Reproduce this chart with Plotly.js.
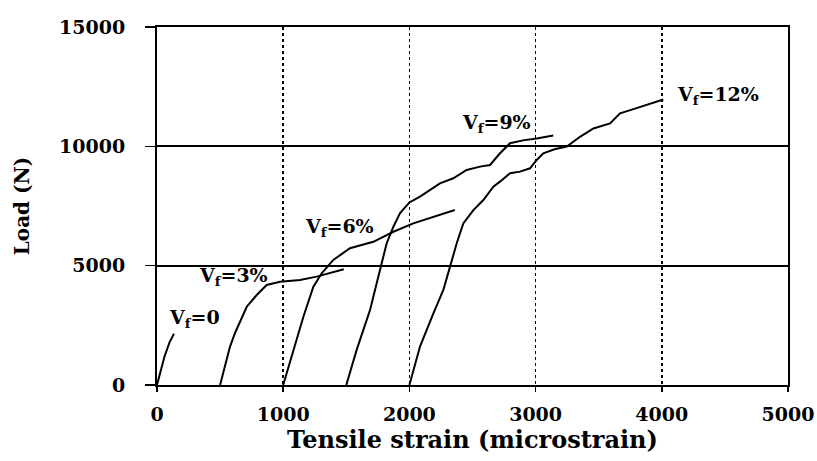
<!DOCTYPE html>
<html>
<head>
<meta charset="utf-8">
<script src="https://cdn.plot.ly/plotly-3.0.1.min.js"></script>
<style>html,body{margin:0;padding:0;background:#fff;}#chart{width:817px;height:461px;}</style>
</head>
<body>
<div id="chart"></div>
<script>
// Tensile strain (microstrain) and Load (N) for each fibre volume fraction
const vf0_x = [0, 10, 25, 60, 100, 135];
const vf0_y = [0, 200, 550, 1200, 1800, 2150];

const vf3_x = [500, 540, 578, 620, 658, 711, 790, 869, 975, 1133, 1265, 1380, 1480];
const vf3_y = [0, 800, 1600, 2200, 2650, 3280, 3770, 4190, 4330, 4400, 4540, 4700, 4850];

const vf6_x = [1000, 1040, 1080, 1160, 1239, 1305, 1397, 1529, 1714, 1873, 2031, 2200, 2360];
const vf6_y = [0, 700, 1470, 2860, 4120, 4680, 5240, 5730, 6000, 6420, 6770, 7050, 7330];

const vf9_x = [1500, 1540, 1582, 1688, 1767, 1820, 1873, 1926, 2000, 2084, 2242, 2348, 2454, 2560, 2639, 2718, 2797, 2900, 3009, 3140];
const vf9_y = [0, 700, 1470, 3140, 4820, 5940, 6630, 7200, 7650, 7890, 8450, 8660, 9010, 9150, 9220, 9710, 10130, 10250, 10330, 10450];

const vf12_x = [2000, 2040, 2084, 2190, 2269, 2322, 2375, 2427, 2507, 2586, 2665, 2718, 2797, 2876, 2956, 3009, 3061, 3150, 3247, 3352, 3458, 3590, 3669, 3775, 3880, 4012];
const vf12_y = [0, 800, 1610, 3000, 3980, 4960, 5940, 6770, 7330, 7750, 8310, 8520, 8870, 8940, 9080, 9430, 9710, 9880, 9990, 10400, 10750, 10960, 11380, 11560, 11730, 11960];

const labels = ["V<sub>f</sub>=0", "V<sub>f</sub>=3%", "V<sub>f</sub>=6%", "V<sub>f</sub>=9%", "V<sub>f</sub>=12%"];
const labelX = [79, 317, 1157, 2401, 4105];
const labelY = [2800, 4530, 6580, 10940, 12110];

const xTicks = [0, 1000, 2000, 3000, 4000, 5000];
const yTicks = [0, 5000, 10000, 15000];

const series = [[vf0_x, vf0_y], [vf3_x, vf3_y], [vf6_x, vf6_y], [vf9_x, vf9_y], [vf12_x, vf12_y]];
const traces = series.map(s => ({
  x: s[0], y: s[1], type: 'scatter', mode: 'lines',
  line: {color: '#000', width: 2}, showlegend: false, hoverinfo: 'skip'
}));

const fontFam = '"DejaVu Serif", "Liberation Serif", serif';
const annotations = labels.map((t, i) => ({
  x: labelX[i], y: labelY[i], xref: 'x', yref: 'y', text: '<b>' + t + '</b>',
  showarrow: false, xanchor: 'left', yanchor: 'middle',
  font: {family: fontFam, size: 19, color: '#000'}
}));

const layout = {
  width: 817, height: 461,
  margin: {l: 157, r: 29, t: 27, b: 76},
  paper_bgcolor: '#fff', plot_bgcolor: '#fff',
  showlegend: false,
  xaxis: {
    range: [0, 5000], tickvals: xTicks, ticktext: xTicks.map(v => '<b>' + v + '</b>'),
    showgrid: true, gridcolor: '#000', gridwidth: 1.5, griddash: 'dot',
    zeroline: false, showline: true, mirror: true, linecolor: '#000', linewidth: 2,
    ticks: 'outside', ticklen: 5, tickcolor: '#000', tickwidth: 1.5,
    ticklabelstandoff: 6,
    tickfont: {family: fontFam, size: 19, color: '#000'},
    title: {text: '<b>Tensile strain (microstrain)</b>', font: {family: fontFam, size: 24, color: '#000'}, standoff: 6}
  },
  yaxis: {
    range: [0, 15000], tickvals: yTicks, ticktext: yTicks.map(v => '<b>' + v + '</b>'),
    showgrid: true, gridcolor: '#000', gridwidth: 2,
    zeroline: false, showline: true, mirror: true, linecolor: '#000', linewidth: 2,
    ticks: 'outside', ticklen: 10, tickcolor: '#000', tickwidth: 1.5,
    ticklabelstandoff: 16,
    tickfont: {family: fontFam, size: 19, color: '#000'},
    title: {text: '<b>Load (N)</b>', font: {family: fontFam, size: 20, color: '#000'}, standoff: 24}
  },
  annotations: annotations
};

Plotly.newPlot('chart', traces, layout, {staticPlot: true, displayModeBar: false});
</script>
</body>
</html>
